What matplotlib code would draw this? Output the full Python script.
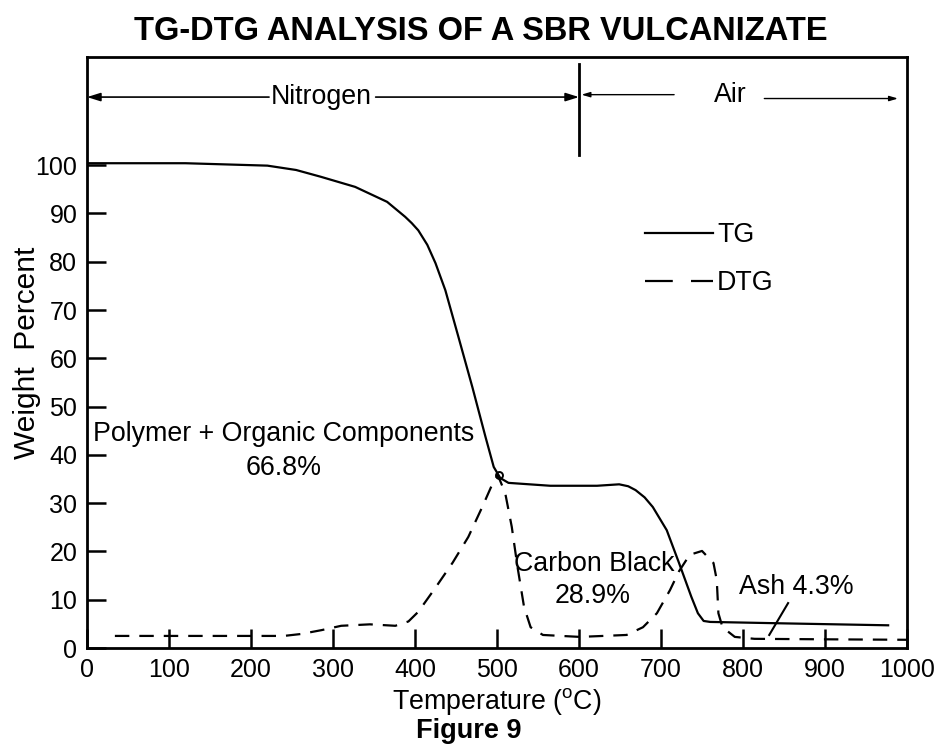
import matplotlib
matplotlib.use('Agg')
import matplotlib.pyplot as plt
from matplotlib.lines import Line2D

plt.rcParams['font.family'] = ['Liberation Sans', 'DejaVu Sans']
plt.rcParams['mathtext.fontset'] = 'custom'
plt.rcParams['mathtext.rm'] = 'Liberation Sans'

# ---- data ----
tg_temp = [0, 120, 220, 255, 285, 327, 366, 388, 396, 404, 415, 425, 437, 453, 470, 486,
           496, 504, 514, 565, 622, 649, 660, 669, 680, 690, 707, 722, 737, 745, 752, 760, 850, 977]
tg_weight = [100.4, 100.4, 99.9, 99.0, 97.6, 95.5, 92.4, 89.3, 88.0, 86.5, 83.5, 79.7, 74.1, 64.4,
             54.0, 43.7, 37.5, 35.2, 34.2, 33.6, 33.6, 33.9, 33.5, 32.7, 31.2, 29.2, 24.4, 17.6,
             10.6, 7.2, 5.6, 5.4, 5.1, 4.7]

dtg_temp = [34, 100, 200, 240, 261, 286, 310, 345, 376, 392, 404, 425, 446, 465, 482, 495,
            501, 510, 518, 525, 533, 541, 556, 601, 658, 678, 695, 711, 722, 735, 750,
            764, 768, 770, 775, 790, 814, 900, 1000]
dtg_value = [2.5, 2.5, 2.5, 2.5, 2.9, 3.7, 4.6, 4.9, 4.6, 5.5, 7.5, 12.5, 17.7, 23.0, 29.2, 34.2,
             35.8, 32.1, 25.1, 16.8, 8.5, 4.3, 2.7, 2.3, 2.7, 4.3, 7.2, 12.0, 15.9, 19.3, 20.1,
             17.6, 14.1, 7.2, 4.3, 2.3, 1.9, 1.8, 1.7]

x_ticks = [0, 100, 200, 300, 400, 500, 600, 700, 800, 900, 1000]
y_ticks = [0, 10, 20, 30, 40, 50, 60, 70, 80, 90, 100]

# annotation anchors (data coordinates)
switch_temp = 600
switch_span = [102, 121]
nitrogen_label = (286, 114.1)
nitrogen_gap = [222, 352]
air_label = (784, 114.6)
air_gap = [716, 826]
air_end = 989
ash_leader_x = [855, 832]
ash_leader_y = [9.3, 2.7]

FS = 19.3

fig = plt.figure(figsize=(9.38, 7.46), dpi=100)
ax = fig.add_axes([87 / 938, 98 / 746, 820 / 938, 591 / 746])

ax.plot(tg_temp, tg_weight, color='black', lw=1.6, solid_joinstyle='round')
ax.plot(dtg_temp, dtg_value, color='black', lw=1.6, dashes=(6.5, 4.5))
ax.plot([503], [35.9], marker='o', ms=5, mfc='none', mec='black', mew=1.4)

ax.set_xlim(0, 1000)
ax.set_ylim(0, 122.4)
ax.set_xticks(x_ticks)
ax.set_yticks(y_ticks)
ax.tick_params(direction='in', length=14, width=1.8, labelsize=18, pad=7)
for s in ax.spines.values():
    s.set_linewidth(2)

ax.set_xlabel('Temperature ($^\\mathrm{o}$C)', fontsize=FS, labelpad=3)
ax.set_ylabel('Weight  Percent', fontsize=21.5)
ax.yaxis.set_label_coords((41 - 87) / 820, 0.499)

# Nitrogen / Air regions
ax.plot([switch_temp, switch_temp], switch_span, color='black', lw=2)
ax.text(*nitrogen_label, 'Nitrogen', fontsize=FS, ha='center', va='center')
ax.annotate('', xy=(0, nitrogen_label[1]), xytext=(nitrogen_gap[0], nitrogen_label[1]),
            arrowprops=dict(arrowstyle='-|>,head_length=0.8,head_width=0.25', color='black',
                            lw=1.2, shrinkA=0, shrinkB=0))
ax.annotate('', xy=(switch_temp, nitrogen_label[1]), xytext=(nitrogen_gap[1], nitrogen_label[1]),
            arrowprops=dict(arrowstyle='-|>,head_length=0.8,head_width=0.25', color='black',
                            lw=1.2, shrinkA=0, shrinkB=0))
ax.text(*air_label, 'Air', fontsize=FS, ha='center', va='center')
ax.annotate('', xy=(switch_temp + 3, air_label[1]), xytext=(air_gap[0], air_label[1]),
            arrowprops=dict(arrowstyle='-|>,head_length=0.5,head_width=0.15', color='black',
                            lw=1.0, shrinkA=0, shrinkB=0))
ax.annotate('', xy=(air_end, air_label[1] - 0.8), xytext=(air_gap[1], air_label[1] - 0.8),
            arrowprops=dict(arrowstyle='-|>,head_length=0.5,head_width=0.15', color='black',
                            lw=1.0, shrinkA=0, shrinkB=0))

# labels inside
ax.text(240, 44.3, 'Polymer + Organic Components', fontsize=FS, ha='center', va='center')
ax.text(240, 37.2, '66.8%', fontsize=FS, ha='center', va='center')
ax.text(618, 17.4, 'Carbon Black', fontsize=FS, ha='center', va='center')
ax.text(617, 10.8, '28.9%', fontsize=FS, ha='center', va='center')
ax.text(865, 12.6, 'Ash 4.3%', fontsize=FS, ha='center', va='center')
ax.plot(ash_leader_x, ash_leader_y, color='black', lw=1.5)

# legend
handles = [Line2D([], [], color='black', lw=1.6),
           Line2D([], [], color='black', lw=1.6, dashes=(12.5, 8.2))]
ax.legend(handles, ['TG', 'DTG'], loc='upper left', bbox_to_anchor=(0.680, 0.720),
          frameon=False, fontsize=FS, handlelength=2.55, handletextpad=0.15,
          labelspacing=0.82, borderpad=0, borderaxespad=0)

fig.text(0.513, 1 - 31 / 746, 'TG-DTG ANALYSIS OF A SBR VULCANIZATE', fontsize=23.5,
         fontweight='bold', ha='center', va='center')
fig.text(0.5, 1 - 731 / 746, 'Figure 9', fontsize=19.5, fontweight='bold',
         ha='center', va='center')

fig.savefig('out.png', dpi=100)
